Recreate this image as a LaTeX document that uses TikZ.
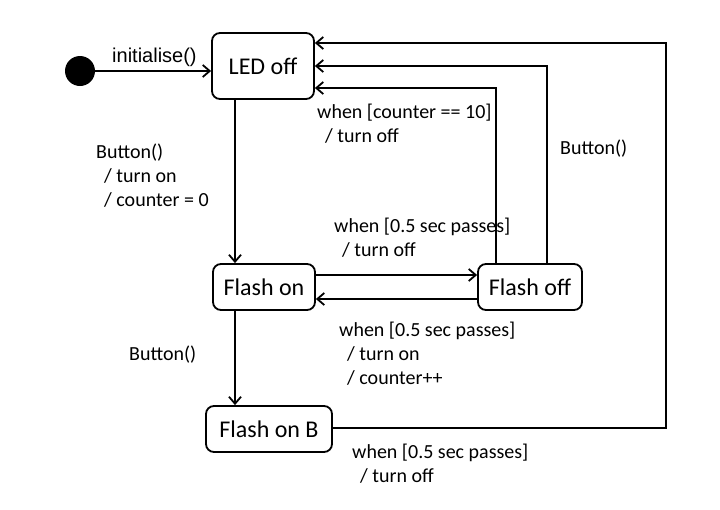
\documentclass[tikz,border=0pt]{standalone}
\usepackage{fontspec}
\setmainfont{Carlito}
\newfontfamily\arialfont{Liberation Sans}
\usetikzlibrary{arrows.meta}
\begin{document}
\begin{tikzpicture}[x=1pt,y=-1pt,
  state/.style={draw, line width=1.8pt, rounded corners=8pt, inner sep=0pt,
    font=\fontsize{24}{28}\selectfont},
  lbl/.style={anchor=north west, inner sep=0pt, align=left,
    font=\fontsize{20}{24}\selectfont},
  conn/.style={line width=1.8pt, -{Straight Barb[length=7pt,width=12pt]}}]
\useasboundingbox (0,0) rectangle (720,509);
\node[circle, fill=black, minimum size=30pt, inner sep=0pt] (init) at (80,71) {};
\node[state, minimum width=102pt, minimum height=66pt] (led) at (263,66) {LED off};
\node[state, minimum width=102pt, minimum height=46pt] (fon) at (264,287) {Flash on};
\node[state, minimum width=104pt, minimum height=46pt] (foff) at (530,287) {Flash off};
\node[state, minimum width=126pt, minimum height=46pt] (fonb) at (269,429) {Flash on B};
\coordinate (xa) at (235,0);
\coordinate (xb) at (496,0);
\coordinate (xc) at (547,0);
\coordinate (xd) at (666,0);
\coordinate (ya) at (0,275);
\coordinate (yf) at (0,299);
\coordinate (yb) at (0,88);
\coordinate (yc) at (0,66);
\coordinate (yd) at (0,43);
\coordinate (ye) at (0,428);
\draw[conn] (init) -- (init -| led.west);
\draw[conn] (led.south -| xa) -- (fon.north -| xa);
\draw[conn] (fon.south -| xa) -- (fonb.north -| xa);
\draw[conn] (fon.east |- ya) -- (foff.west |- ya);
\draw[conn] (foff.west |- yf) -- (fon.east |- yf);
\draw[conn] (foff.north -| xb) |- (led.east |- yb);
\draw[conn] (foff.north -| xc) |- (led.east |- yc);
\draw[conn] (fonb.east |- ye) -| (xd |- yd) -- (led.east |- yd);
\node[anchor=base west, inner sep=0pt, font=\arialfont\fontsize{20}{24}\selectfont] (linit) at (112,62) {initialise()};
\node[lbl] (l1) at (317,104) {when [counter == 10]\\\hspace*{8pt}/ turn off};
\node[lbl] (l2) at (96,144) {Button()\\\hspace*{8pt}/ turn on\\\hspace*{8pt}/ counter = 0};
\node[lbl] (l3) at (560,140) {Button()};
\node[lbl] (l4) at (334,218) {when [0.5 sec passes]\\\hspace*{8pt}/ turn off};
\node[lbl] (l5) at (339,322) {when [0.5 sec passes]\\\hspace*{8pt}/ turn on\\\hspace*{8pt}/ counter++};
\node[lbl] (l6) at (129,346) {Button()};
\node[lbl] (l7) at (352,444) {when [0.5 sec passes]\\\hspace*{8pt}/ turn off};
\end{tikzpicture}
\end{document}
